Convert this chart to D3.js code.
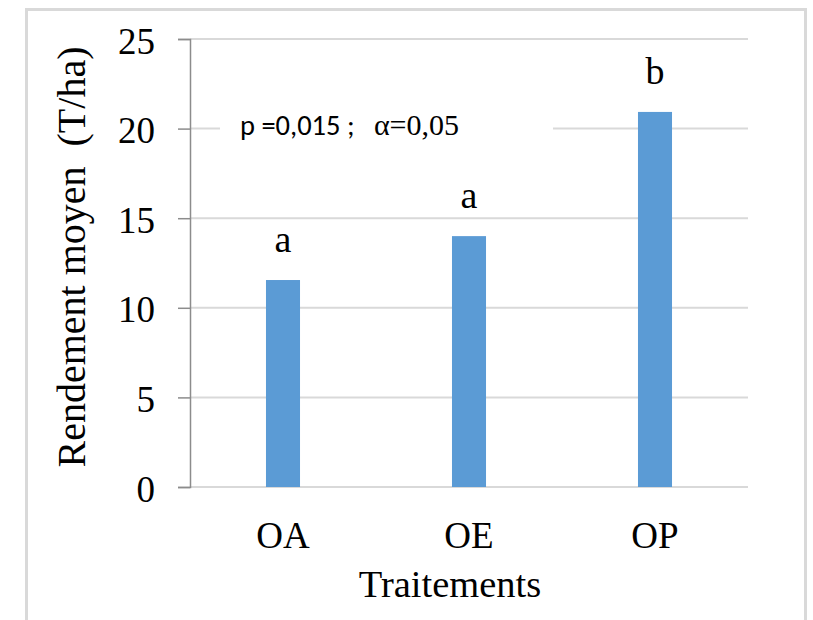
<!DOCTYPE html>
<html>
<head>
<meta charset="utf-8">
<script src="https://cdn.jsdelivr.net/npm/d3@7"></script>
<style>
body{margin:0;background:#fff;}
</style>
</head>
<body>
<div id="content"></div>
<script>
// data
var categories=["OA","OE","OP"];
var values=[11.55,14.0,20.93];
var letters=["a","a","b"];
var yTicks=[0,5,10,15,20,25];
var pText="p =0,015 ;";
var alphaText="\u03b1=0,05";

var serif="'Liberation Serif','Times New Roman',serif";
var sans="Carlito,Calibri,'Liberation Sans',sans-serif";

var width=813,height=620;
var margin={'left':190,'top':39,'right':65,'bottom':133};
var plotRight=width-margin.right;
var plotBottom=height-margin.bottom;

var svg=d3.select("#content").append("svg")
  .attr("width",width)
  .attr("height",height);

// outer frame
svg.append("rect")
  .attr("x",26.5).attr("y",9.5)
  .attr("width",779).attr("height",640)
  .attr("fill","#fff")
  .attr("stroke","#d9d9d9")
  .attr("stroke-width",3);

var x=d3.scaleBand()
  .domain(categories)
  .range([margin.left,plotRight])
  .paddingInner(0.817)
  .paddingOuter(0.4085);

var y=d3.scaleLinear()
  .domain([0,25])
  .range([plotBottom,margin.top]);

// gridlines
svg.append("g")
  .selectAll("line")
  .data(yTicks)
  .enter()
  .append("line")
  .attr("x1",margin.left)
  .attr("x2",plotRight)
  .attr("y1",function(d){return y(d);})
  .attr("y2",function(d){return y(d);})
  .attr("stroke","#d9d9d9")
  .attr("stroke-width",2);

// y axis
var yAxis=svg.append("g")
  .attr("transform","translate("+margin.left+",0)")
  .call(d3.axisLeft(y).tickValues(yTicks).tickSize(12).tickPadding(23));
yAxis.select(".domain").attr("stroke","#8c8c8c").attr("stroke-width",1.5);
yAxis.selectAll(".tick line").attr("stroke","#8c8c8c").attr("stroke-width",1.5);
yAxis.selectAll(".tick text")
  .attr("dy","0.38em")
  .style("font-size","37px")
  .style("font-family",serif)
  .attr("fill","#000");

// bars
svg.selectAll(".bar")
  .data(values)
  .enter()
  .append("rect")
  .attr("class","bar")
  .attr("x",function(d,i){return x(categories[i]);})
  .attr("y",function(d){return y(d);})
  .attr("width",x.bandwidth())
  .attr("height",function(d){return plotBottom-y(d);})
  .attr("fill","#5b9bd5");

// significance letters
svg.selectAll(".letter")
  .data(values)
  .enter()
  .append("text")
  .attr("x",function(d,i){return x(categories[i])+x.bandwidth()/2;})
  .attr("y",function(d){return y(d)-28;})
  .attr("text-anchor","middle")
  .style("font-family",serif)
  .style("font-size","38px")
  .text(function(d,i){return letters[i];});

// x labels
svg.selectAll(".cat")
  .data(categories)
  .enter()
  .append("text")
  .attr("x",function(d){return x(d)+x.bandwidth()/2;})
  .attr("y",plotBottom+61)
  .attr("text-anchor","middle")
  .style("font-family",serif)
  .style("font-size","37px")
  .text(function(d){return d;});

// axis titles
svg.append("text")
  .attr("x",450)
  .attr("y",597)
  .attr("text-anchor","middle")
  .style("font-family",serif)
  .style("font-size","38.5px")
  .text("Traitements");

svg.append("text")
  .attr("transform","translate(85,257) rotate(-90)")
  .attr("text-anchor","middle")
  .style("font-family",serif)
  .style("font-size","40px")
  .style("white-space","pre")
  .text("Rendement moyen  (T/ha)");

// annotation box
svg.append("rect")
  .attr("x",220).attr("y",108)
  .attr("width",333).attr("height",40)
  .attr("fill","#fff");
var ann=svg.append("text")
  .attr("x",240)
  .attr("y",135)
  .style("white-space","pre");
ann.append("tspan")
  .style("font-family",sans)
  .style("font-size","28.5px")
  .text(pText+"   ");
ann.append("tspan")
  .style("font-family",serif)
  .style("font-size","30px")
  .text(alphaText);
</script>
</body>
</html>
